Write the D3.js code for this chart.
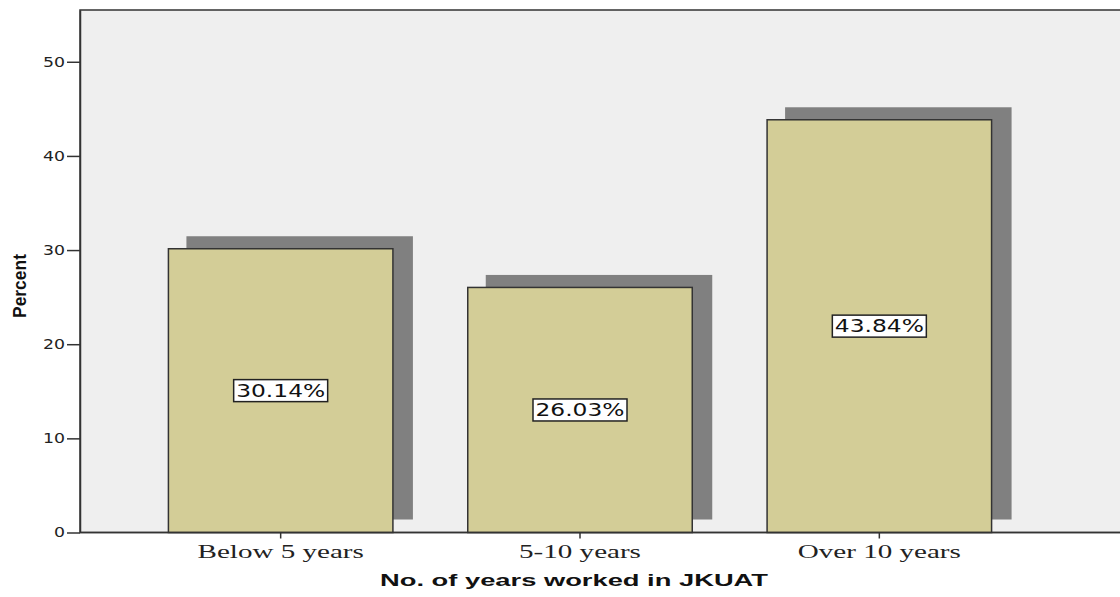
<!DOCTYPE html>
<html>
<head>
<meta charset="utf-8">
<script src="https://cdn.jsdelivr.net/npm/d3@7"></script>
<style>
  html, body { margin: 0; padding: 0; background: #ffffff; }
  svg { display: block; }
</style>
</head>
<body>
<svg id="chart" width="1120" height="597"></svg>
<script>
const categories = ["Below 5 years", "5-10 years", "Over 10 years"];
const percents = [30.14, 26.03, 43.84];
const valueLabels = ["30.14%", "26.03%", "43.84%"];
const yTicks = [0, 10, 20, 30, 40, 50];
const xTitle = "No. of years worked in JKUAT";
const yTitle = "Percent";

const svg = d3.select("#chart");
const W = 1120, H = 597;
const plot = { left: 80, top: 10, right: 1130, bottom: 532.5 };

const y = d3.scaleLinear().domain([0, 55.5]).range([plot.bottom, plot.top]);
const x = d3.scaleBand().domain(categories).range([131, 1029])
  .paddingInner(0.25).paddingOuter(0.125);

// plot background
svg.append("rect")
  .attr("x", plot.left).attr("y", plot.top)
  .attr("width", plot.right - plot.left).attr("height", plot.bottom - plot.top)
  .attr("fill", "#efefef").attr("stroke", "#333").attr("stroke-width", 1.5);

const data = categories.map((c, i) => ({ cat: c, v: percents[i], lab: valueLabels[i] }));

// shadows
svg.append("g").selectAll("rect").data(data).join("rect")
  .attr("x", d => x(d.cat) + 18)
  .attr("y", d => y(d.v) - 12.5)
  .attr("width", x.bandwidth() + 2)
  .attr("height", d => y(0) - y(d.v) - 0.5)
  .attr("fill", "#808080");

// bars
svg.append("g").selectAll("rect").data(data).join("rect")
  .attr("x", d => x(d.cat))
  .attr("y", d => y(d.v))
  .attr("width", x.bandwidth())
  .attr("height", d => y(0) - y(d.v))
  .attr("fill", "#d3cd97")
  .attr("stroke", "#333")
  .attr("stroke-width", 1.5);

// value labels
const lg = svg.append("g").selectAll("g").data(data).join("g")
  .attr("transform", d => `translate(${x(d.cat) + x.bandwidth() / 2},${y(d.v / 2)})`);
lg.append("rect")
  .attr("x", -47).attr("y", -11).attr("width", 94).attr("height", 22)
  .attr("fill", "#ffffff").attr("stroke", "#222").attr("stroke-width", 1.5);
lg.append("text")
  .attr("text-anchor", "middle").attr("dy", "0.36em")
  .attr("font-family", "DejaVu Sans, sans-serif").attr("font-size", 17)
  .attr("fill", "#111")
  .attr("textLength", 89).attr("lengthAdjust", "spacingAndGlyphs")
  .text(d => d.lab);

// y axis
const yAxis = d3.axisLeft(y).tickValues(yTicks).tickSize(13).tickSizeOuter(0).tickPadding(2);
const gy = svg.append("g").attr("transform", `translate(${plot.left},0)`).call(yAxis);
gy.select(".domain").attr("stroke", "#333").attr("stroke-width", 1.5);
gy.selectAll(".tick line").attr("stroke", "#333").attr("stroke-width", 1.5);
gy.selectAll(".tick text")
  .attr("font-family", "DejaVu Sans, sans-serif").attr("font-size", 14)
  .attr("fill", "#222")
  .attr("textLength", d => d === 0 ? 11 : 22).attr("lengthAdjust", "spacingAndGlyphs");

// x axis
const xAxis = d3.axisBottom(x).tickSize(6).tickSizeOuter(0).tickPadding(6);
const gx = svg.append("g").attr("transform", `translate(0,${plot.bottom})`).call(xAxis);
gx.select(".domain").remove();
gx.append("line").attr("x1", plot.left).attr("x2", W).attr("y1", 0).attr("y2", 0)
  .attr("stroke", "#333").attr("stroke-width", 1.5);
gx.selectAll(".tick line").attr("stroke", "#333").attr("stroke-width", 1.5);
const xt = gx.selectAll(".tick text")
  .attr("font-family", "Liberation Serif, serif").attr("font-size", 19)
  .attr("fill", "#222");
let refLen = 1;
xt.each(function(d) { if (d === "Over 10 years") refLen = this.getComputedTextLength(); });
const stretch = 163 / refLen;
xt.each(function() {
  const l = this.getComputedTextLength();
  d3.select(this).attr("textLength", l * stretch).attr("lengthAdjust", "spacingAndGlyphs");
});

// titles
svg.append("text")
  .attr("x", 574).attr("y", 586)
  .attr("text-anchor", "middle")
  .attr("font-family", "Liberation Sans, Arial, sans-serif").attr("font-weight", "bold")
  .attr("font-size", 17).attr("fill", "#111")
  .attr("textLength", 388).attr("lengthAdjust", "spacingAndGlyphs")
  .text(xTitle);

svg.append("text")
  .attr("transform", "translate(26,286) rotate(-90)")
  .attr("text-anchor", "middle")
  .attr("font-family", "Liberation Sans Narrow, Liberation Sans, Arial, sans-serif").attr("font-weight", "bold")
  .attr("font-size", 18).attr("fill", "#111")
  .attr("textLength", 64).attr("lengthAdjust", "spacingAndGlyphs")
  .text(yTitle);
</script>
</body>
</html>
